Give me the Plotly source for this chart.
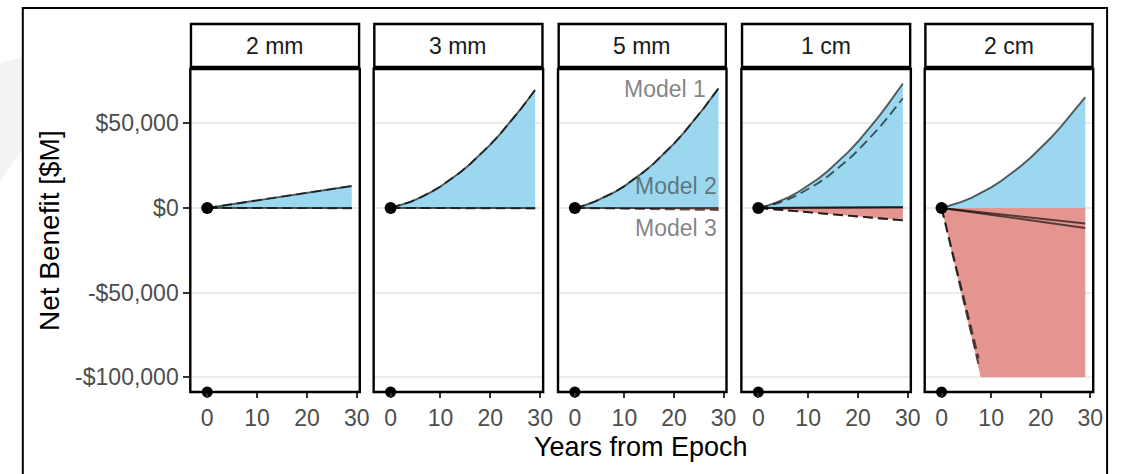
import plotly.graph_objects as go

# ---------------- data ----------------
panels = ["2 mm", "3 mm", "5 mm", "1 cm", "2 cm"]
years = [0, 2, 4, 6, 8, 10, 12, 14, 16, 18, 20, 22, 24, 26, 28, 29]

# 2 mm
mm2_model1 = [0, 900, 1790, 2690, 3590, 4480, 5380, 6280, 7170, 8070, 8970, 9860, 10760, 11660, 12550, 13000]
mm2_model2 = [0, 0, 0, 0, 0, 0, 0, 0, 0, 0, 0, 0, 0, 0, 0, 0]
mm2_model3 = [0, -10, -20, -30, -40, -50, -60, -70, -80, -90, -100, -110, -120, -130, -140, -145]

# 3 mm
mm3_model1 = [0, 1600, 3650, 6200, 9200, 12700, 16700, 21150, 26100, 31500, 37400, 43800, 50700, 58000, 65800, 69700]
mm3_model2 = [0, 0, 0, 0, 0, 0, 0, 0, 0, 0, 0, 0, 0, 0, 0, 0]
mm3_model3 = [0, -20, -40, -60, -80, -100, -120, -140, -160, -180, -200, -220, -240, -260, -280, -290]

# 5 mm
mm5_model1 = [0, 1620, 3700, 6290, 9340, 12890, 16950, 21470, 26490, 31970, 37960, 44460, 51460, 58870, 66790, 70700]
mm5_model2 = [0, 0, 0, 0, 0, 0, 0, 0, 0, 0, 0, 0, 0, 0, 0, 0]
mm5_model3 = [0, -80, -170, -250, -330, -420, -500, -580, -670, -750, -830, -920, -1000, -1080, -1170, -1210]

# 1 cm
cm1_model1_a = [0, 1580, 3680, 6300, 9450, 13110, 17290, 22000, 27230, 32970, 39240, 46030, 53340, 61170, 69520, 73500]
cm1_model1_b = [0, 1250, 2950, 5150, 7850, 11000, 14650, 18800, 23400, 28400, 34000, 40000, 46500, 53500, 61000, 64800]
cm1_model2 = [0, 30, 60, 90, 120, 150, 180, 210, 240, 270, 300, 330, 360, 390, 420, 440]
cm1_model3 = [0, -500, -1000, -1500, -2000, -2500, -3000, -3500, -4000, -4500, -5000, -5500, -6000, -6500, -7050, -7300]

# 2 cm
cm2_model1 = [0, 1554, 3548, 5982, 8856, 12170, 15924, 20118, 24752, 29826, 35340, 41294, 47688, 54522, 61796, 65400]
cm2_model2_a = [0, -630, -1270, -1900, -2540, -3170, -3810, -4440, -5080, -5710, -6340, -6980, -7610, -8250, -8880, -9200]
cm2_model2_b = [0, -810, -1630, -2440, -3260, -4070, -4880, -5700, -6510, -7320, -8140, -8950, -9770, -10580, -11390, -11800]
cm2_steep_years = [0, 1, 2, 3, 4, 5, 6, 7, 7.5]
cm2_model3_a = [0, -11500, -23300, -35200, -47100, -59000, -70900, -82800, -88800]
cm2_model3_b = [0, -12400, -24800, -37200, -49600, -62000, -74400, -86800, -93000]
cm2_loss_years = [0, 7.9, 29]
cm2_loss_floor = [0, -100000, -100000]

start_year = [0]
start_value = [0]

x_ticks = [0, 10, 20, 30]
y_ticks = [50000, 0, -50000, -100000]
y_tick_labels = ["$50,000", "$0", "-$50,000", "-$100,000"]
model_labels = ["Model 1", "Model 2", "Model 3"]

# ---------------- style / layout ----------------
W, H = 1127, 474
FONT = "Liberation Sans, Arial, Helvetica, sans-serif"
BLUE = "#9bd8f0"
RED = "#e4958f"
LINE = "rgba(0,0,0,0.62)"
DASH = "10px,5px"
LW = 1.9
TICK_SIZE = 23
TITLE_SIZE = 27

panel_left = [192, 377, 563, 748, 933]
panel_right = [363, 548, 733, 919, 1103]
panel_top, panel_bottom = 69, 392
strip_top, strip_bottom = 24, 67
x_range = [-3.4, 30.6]
y_range = [-108650, 82050]

upper = [mm2_model1, mm3_model1, mm5_model1, cm1_model1_a, cm2_model1]
lower = [mm2_model3, mm3_model3, mm5_model3, cm1_model3, None]
lines = [
    [(years, mm2_model1, "solid"), (years, mm2_model1, DASH), (years, mm2_model2, "solid"), (years, mm2_model3, DASH)],
    [(years, mm3_model1, "solid"), (years, mm3_model1, DASH), (years, mm3_model2, "solid"), (years, mm3_model3, DASH)],
    [(years, mm5_model1, "solid"), (years, mm5_model1, DASH), (years, mm5_model2, "solid"), (years, mm5_model3, DASH)],
    [(years, cm1_model1_a, "solid"), (years, cm1_model1_b, DASH), (years, cm1_model2, "solid"),
     (years, cm1_model2, "solid"), (years, cm1_model3, DASH), (years, cm1_model3, DASH)],
    [(years, cm2_model1, "solid"), (years, cm2_model2_a, "solid"), (years, cm2_model2_b, "solid"),
     (cm2_steep_years, cm2_model3_a, DASH), (cm2_steep_years, cm2_model3_b, DASH)],
]

fig = go.Figure()
layout = dict(
    autosize=True, margin=dict(l=0, r=0, t=0, b=0),
    paper_bgcolor="white", plot_bgcolor="white", showlegend=False,
    font=dict(family=FONT, color="#4d4d4d"),
)
shapes = []
annotations = []

# decorative background band and outer frame
shapes.append(dict(type="path", xref="paper", yref="paper",
                   path=f"M 0,{1-63/H} L {22/W},{1-57/H} L {22/W},{1-150/H} L 0,{1-182/H} Z",
                   fillcolor="#f3f3f3", line=dict(width=0), layer="below"))
shapes.append(dict(type="rect", xref="paper", yref="paper",
                   x0=23/W, x1=1117/W, y0=-0.05, y1=1-8/H,
                   line=dict(color="black", width=2), layer="above"))

for i, name in enumerate(panels):
    k = "" if i == 0 else str(i + 1)
    xa, ya = "x" + k, "y" + k
    # fills
    fig.add_trace(go.Scatter(x=years, y=upper[i], mode="lines", fill="tozeroy",
                             fillcolor=BLUE, line=dict(width=0), xaxis=xa, yaxis=ya, hoverinfo="skip"))
    if lower[i] is not None:
        fig.add_trace(go.Scatter(x=years, y=lower[i], mode="lines", fill="tozeroy",
                                 fillcolor=RED, line=dict(width=0), xaxis=xa, yaxis=ya, hoverinfo="skip"))
    else:
        fig.add_trace(go.Scatter(x=cm2_loss_years, y=cm2_loss_floor, mode="lines", fill="tozeroy",
                                 fillcolor=RED, line=dict(width=0), xaxis=xa, yaxis=ya, hoverinfo="skip"))
    # lines
    for (xs, ys, d) in lines[i]:
        fig.add_trace(go.Scatter(x=xs, y=ys, mode="lines",
                                 line=dict(color=LINE, width=LW, dash=d),
                                 xaxis=xa, yaxis=ya, hoverinfo="skip"))
    # dots
    fig.add_trace(go.Scatter(x=start_year, y=start_value, mode="markers",
                             marker=dict(color="black", size=12), xaxis=xa, yaxis=ya,
                             cliponaxis=False, hoverinfo="skip"))
    fig.add_trace(go.Scatter(x=start_year, y=[y_range[0]], mode="markers",
                             marker=dict(color="black", size=11), xaxis=xa, yaxis=ya,
                             cliponaxis=False, hoverinfo="skip"))

    layout["xaxis" + k] = dict(
        domain=[panel_left[i] / W, panel_right[i] / W], range=x_range, anchor=ya,
        tickvals=x_ticks, ticks="outside", ticklen=5, tickwidth=1.8, tickcolor="#333333",
        tickfont=dict(size=TICK_SIZE, color="#4d4d4d", family=FONT),
        showgrid=False, zeroline=False, showline=False, fixedrange=True,
    )
    layout["yaxis" + k] = dict(
        domain=[1 - panel_bottom / H, 1 - panel_top / H], range=y_range, anchor=xa,
        tickvals=y_ticks, ticktext=y_tick_labels,
        showticklabels=(i == 0), ticks="outside" if i == 0 else "",
        ticklen=6, tickwidth=1.8, tickcolor="#333333",
        tickfont=dict(size=TICK_SIZE, color="#4d4d4d", family=FONT),
        showgrid=True, gridcolor="#ebebeb", gridwidth=2,
        zeroline=False, showline=False, fixedrange=True,
    )
    # panel border
    shapes.append(dict(type="rect", xref=xa + " domain", yref=ya + " domain",
                       x0=0, x1=1, y0=0, y1=1, line=dict(color="black", width=2.4), layer="above"))
    # strip
    shapes.append(dict(type="rect", xref=xa + " domain", yref="paper",
                       x0=0.004, x1=0.996, y0=1 - strip_bottom / H, y1=1 - strip_top / H,
                       fillcolor="white", line=dict(color="black", width=2.4), layer="above"))
    annotations.append(dict(text=name, xref=xa + " domain", yref="paper", x=0.5,
                            y=1 - (strip_top + strip_bottom) / 2 / H, showarrow=False,
                            xanchor="center", yanchor="middle",
                            font=dict(size=TICK_SIZE, color="#1a1a1a", family=FONT)))

# model labels in 5 mm panel
label_color = "rgba(60,60,60,0.65)"
annotations.append(dict(text=model_labels[0], xref="x3", yref="y3", x=26.9, y=70300, showarrow=False,
                        xanchor="right", yanchor="middle", font=dict(size=TICK_SIZE, color=label_color, family=FONT)))
annotations.append(dict(text=model_labels[1], xref="x3", yref="y3", x=29, y=13000, showarrow=False,
                        xanchor="right", yanchor="middle", font=dict(size=TICK_SIZE, color=label_color, family=FONT)))
annotations.append(dict(text=model_labels[2], xref="x3", yref="y3", x=29, y=-12000, showarrow=False,
                        xanchor="right", yanchor="middle", font=dict(size=TICK_SIZE, color=label_color, family=FONT)))

# axis titles
annotations.append(dict(text="Net Benefit [$M]", xref="paper", yref="paper", x=50 / W,
                        y=1 - (panel_top + panel_bottom) / 2 / H, textangle=-90, showarrow=False,
                        xanchor="center", yanchor="middle", font=dict(size=TITLE_SIZE + 1, color="black", family=FONT)))
annotations.append(dict(text="Years from Epoch", xref="paper", yref="paper", x=647 / W,
                        y=1 - 447 / H, showarrow=False, xanchor="center", yanchor="middle",
                        font=dict(size=TITLE_SIZE, color="black", family=FONT)))

layout["shapes"] = shapes
layout["annotations"] = annotations
fig.update_layout(**layout)

fig.write_html(
    "out.html",
    default_width="100vw",
    default_height="100vh",
    config={"displayModeBar": False},
    post_script="document.body.style.margin='0';document.body.style.overflow='hidden';"
                "document.documentElement.style.overflow='hidden';",
)
